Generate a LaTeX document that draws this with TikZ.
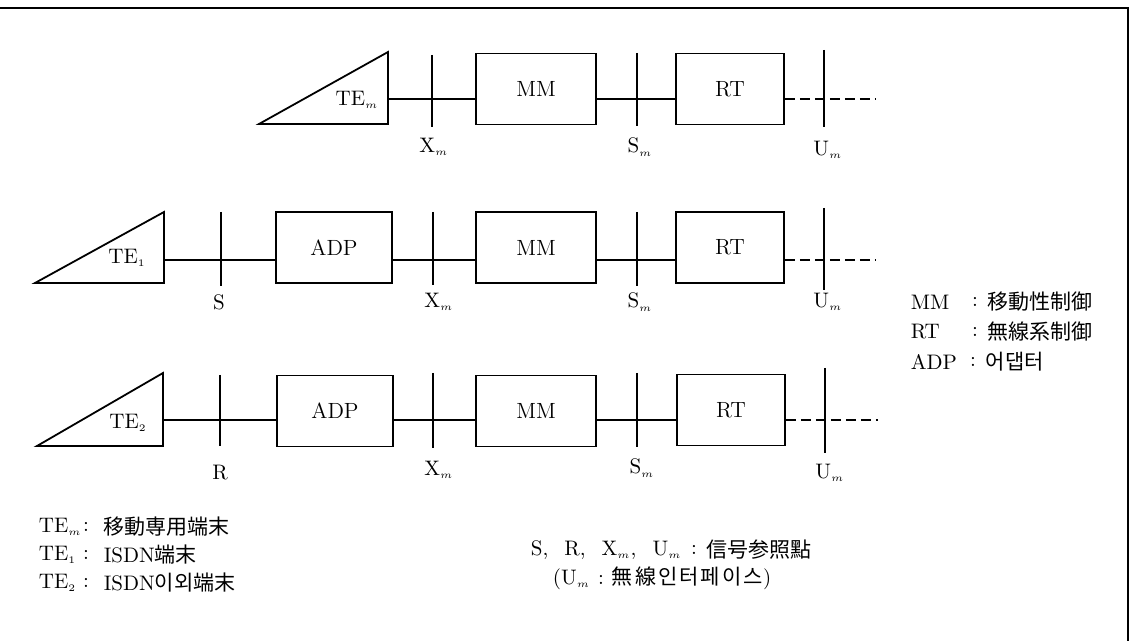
\documentclass[tikz,border=0pt]{standalone}
\usepackage{fontspec}
\newfontfamily\cjk{Noto Sans CJK KR}
\newcommand\sbx[1]{$_{\scriptscriptstyle #1}$}
\begin{document}
\begin{tikzpicture}[x=0.5pt,y=-0.5pt,line width=0.9pt,
  blk/.style={draw,rectangle,inner sep=0pt,minimum height=35.5pt,font=\fontsize{11pt}{13pt}\selectfont},
  lab/.style={inner sep=0pt,font=\fontsize{10.5pt}{12pt}\selectfont},
  cj/.style={inner sep=0pt,font=\fontsize{10.5pt}{12pt}\selectfont\cjk},
  dsh/.style={dash pattern=on 5pt off 2.5pt}]
\useasboundingbox (0,0) rectangle (1142,641);
\coordinate (fa) at (0,8); \coordinate (fb) at (1128,8); \coordinate (fc) at (1128,641);
\draw (fa) -- (fb) -- (fc);

% ---------- Row 1 ----------
\coordinate (a1) at (259,124); \coordinate (b1) at (388,52); \coordinate (c1) at (388,124);
\draw (a1) -- (b1) -- (c1) -- cycle;
\node[lab] (te1) at (357,100) {TE\sbx{m}};
\node[blk,minimum width=60pt] (mm1) at (536,89) {MM};
\node[blk,minimum width=54pt] (rt1) at (730,89) {RT};
\coordinate (p1) at (388,99); \coordinate (e1) at (875,99);
\draw (p1) -- (mm1.west |- p1);
\draw (mm1.east |- p1) -- (rt1.west |- p1);
\draw[dsh] (rt1.east |- p1) -- (e1);
\coordinate (x1t) at (432,55); \coordinate (x1b) at (432,127); \draw (x1t) -- (x1b);
\coordinate (s1t) at (637,53); \coordinate (s1b) at (637,126); \draw (s1t) -- (s1b);
\coordinate (u1t) at (824,50); \coordinate (u1b) at (824,127); \draw (u1t) -- (u1b);
\node[lab] (lx1) at (434,147) {X\sbx{m}};
\node[lab] (ls1) at (640,147) {S\sbx{m}};
\node[lab] (lu1) at (828,150) {U\sbx{m}};

% ---------- Row 2 ----------
\coordinate (a2) at (35,283); \coordinate (b2) at (164,212); \coordinate (c2) at (164,283);
\draw (a2) -- (b2) -- (c2) -- cycle;
\node[lab] (te2) at (127,258) {TE\sbx{1}};
\node[blk,minimum width=58pt] (adp2) at (334,247.5) {ADP};
\node[blk,minimum width=60pt] (mm2) at (536,247.5) {MM};
\node[blk,minimum width=54pt] (rt2) at (730,247.5) {RT};
\coordinate (p2) at (164,260); \coordinate (e2) at (875,260);
\draw (p2) -- (adp2.west |- p2);
\draw (adp2.east |- p2) -- (mm2.west |- p2);
\draw (mm2.east |- p2) -- (rt2.west |- p2);
\draw[dsh] (rt2.east |- p2) -- (e2);
\coordinate (s2t) at (221,212); \coordinate (s2b) at (221,286); \draw (s2t) -- (s2b);
\coordinate (x2t) at (433,212); \coordinate (x2b) at (433,285); \draw (x2t) -- (x2b);
\coordinate (m2t) at (637,212); \coordinate (m2b) at (637,286); \draw (m2t) -- (m2b);
\coordinate (u2t) at (824,208); \coordinate (u2b) at (824,290); \draw (u2t) -- (u2b);
\node[lab] (ls2) at (219,302) {S};
\node[lab] (lx2) at (439,302) {X\sbx{m}};
\node[lab] (lm2) at (640,302) {S\sbx{m}};
\node[lab] (lu2) at (828,302) {U\sbx{m}};

% ---------- Row 3 ----------
\coordinate (a3) at (37,446); \coordinate (b3) at (163,373); \coordinate (c3) at (163,446);
\draw (a3) -- (b3) -- (c3) -- cycle;
\node[lab] (te3) at (128,423) {TE\sbx{2}};
\node[blk,minimum width=58pt] (adp3) at (335,411) {ADP};
\node[blk,minimum width=60pt] (mm3) at (536,411) {MM};
\node[blk,minimum width=54pt] (rt3) at (731,410) {RT};
\coordinate (p3) at (163,420); \coordinate (e3) at (878,420);
\draw (p3) -- (adp3.west |- p3);
\draw (adp3.east |- p3) -- (mm3.west |- p3);
\draw (mm3.east |- p3) -- (rt3.west |- p3);
\draw[dsh] (rt3.east |- p3) -- (e3);
\coordinate (r3t) at (220,375); \coordinate (r3b) at (220,446); \draw (r3t) -- (r3b);
\coordinate (x3t) at (433,373); \coordinate (x3b) at (433,448); \draw (x3t) -- (x3b);
\coordinate (m3t) at (637,373); \coordinate (m3b) at (637,447); \draw (m3t) -- (m3b);
\coordinate (u3t) at (825,368); \coordinate (u3b) at (825,453); \draw (u3t) -- (u3b);
\node[lab] (lr3) at (220,473) {R};
\node[lab] (lx3) at (439,470) {X\sbx{m}};
\node[lab] (lm3) at (642,468) {S\sbx{m}};
\node[lab] (lu3) at (830,473) {U\sbx{m}};

% ---------- Right legend ----------
\node[lab,anchor=west] (gm) at (910,302) {MM};
\node[lab] (gmc) at (975,302) {:};
\node[cj,anchor=west] (gmt) at (987,302) {移動性制御};
\node[lab,anchor=west] (gr) at (910,332) {RT};
\node[lab] (grc) at (975,332) {:};
\node[cj,anchor=west] (grt) at (987,332) {無線系制御};
\node[lab,anchor=west] (ga) at (910,362) {ADP};
\node[lab] (gac) at (973,362) {:};
\node[cj,anchor=west] (gat) at (985,362) {어댑터};

% ---------- Bottom-left legend ----------
\node[lab,anchor=west] (bl1) at (38,527) {TE\sbx{m}};
\node[lab] (bl1c) at (86,527) {:};
\node[cj,anchor=west] (bl1t) at (103,527) {移動専用端末};
\node[lab,anchor=west] (bl2) at (38,555) {TE\sbx{1}};
\node[lab] (bl2c) at (86,555) {:};
\node[lab,anchor=west] (bl2t) at (103,555) {ISDN{\cjk 端末}};
\node[lab,anchor=west] (bl3) at (38,583) {TE\sbx{2}};
\node[lab] (bl3c) at (86,583) {:};
\node[lab,anchor=west] (bl3t) at (103,583) {ISDN{\cjk 이외端末}};

% ---------- Bottom-centre legend ----------
\node[lab,anchor=west] (bc1) at (530,550) {S,\hspace{8pt}R,\hspace{8pt}X\sbx{m},\hspace{8pt}U\sbx{m}};
\node[lab] (bc1c) at (694,550) {:};
\node[cj,anchor=west] (bc1t) at (706,550) {信号参照點};
\node[lab,anchor=west] (bc2) at (552,578) {(U\sbx{m}\hspace{4pt}:\hspace{4pt}{\cjk\addfontfeature{LetterSpace=10}\fontsize{10.5pt}{12pt}\selectfont 無線인터페이스})};
\end{tikzpicture}
\end{document}
